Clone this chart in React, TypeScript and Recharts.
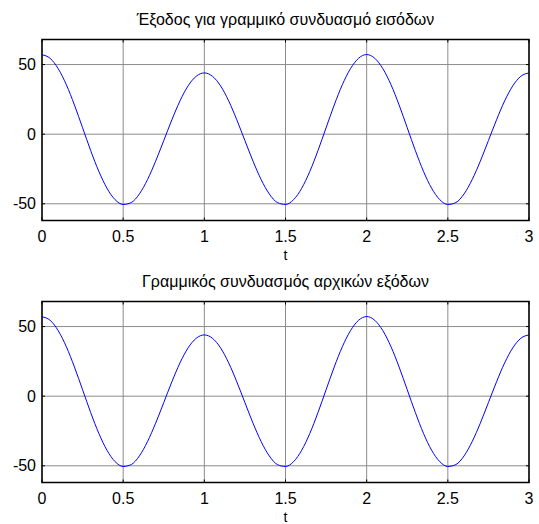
import React from 'react';
import { LineChart, Line, XAxis, YAxis, CartesianGrid, ReferenceArea, ReferenceLine } from 'recharts';

// time samples (s)
const tValues = [
  0, 0.05, 0.1, 0.15, 0.2, 0.25, 0.3, 0.35, 0.4, 0.45,
  0.5, 0.55, 0.6, 0.65, 0.7, 0.75, 0.8, 0.85, 0.9, 0.95,
  1, 1.05, 1.1, 1.15, 1.2, 1.25, 1.3, 1.35, 1.4, 1.45,
  1.5, 1.55, 1.6, 1.65, 1.7, 1.75, 1.8, 1.85, 1.9, 1.95,
  2, 2.05, 2.1, 2.15, 2.2, 2.25, 2.3, 2.35, 2.4, 2.45,
  2.5, 2.55, 2.6, 2.65, 2.7, 2.75, 2.8, 2.85, 2.9, 2.95,
  3,
];

// output for the linear combination of inputs
const outputValues = [
  57.0, 54.5, 47.0, 35.5, 20.9, 4.6, -11.8, -26.7, -38.8, -47.0,
  -50.5, -49.1, -42.9, -32.6, -19.4, -4.6, 10.3, 23.9, 34.7, 41.6,
  44.0, 41.6, 34.7, 23.9, 10.3, -4.6, -19.4, -32.6, -42.9, -49.1,
  -50.5, -47.0, -38.8, -26.7, -11.8, 4.6, 20.9, 35.5, 47.0, 54.5,
  57.2, 54.5, 47.0, 35.5, 20.9, 4.6, -11.8, -26.7, -38.8, -47.0,
  -50.5, -49.1, -42.9, -32.6, -19.4, -4.6, 10.3, 23.9, 34.7, 41.6,
  44.0,
];

// linear combination of the original outputs
const combinedValues = [
  57.0, 54.5, 47.0, 35.5, 20.9, 4.6, -11.8, -26.7, -38.8, -47.0,
  -50.5, -49.1, -42.9, -32.6, -19.4, -4.6, 10.3, 23.9, 34.7, 41.6,
  44.0, 41.6, 34.7, 23.9, 10.3, -4.6, -19.4, -32.6, -42.9, -49.1,
  -50.5, -47.0, -38.8, -26.7, -11.8, 4.6, 20.9, 35.5, 47.0, 54.5,
  57.2, 54.5, 47.0, 35.5, 20.9, 4.6, -11.8, -26.7, -38.8, -47.0,
  -50.5, -49.1, -42.9, -32.6, -19.4, -4.6, 10.3, 23.9, 34.7, 41.6,
  44.0,
];

const xTicks = [0, 0.5, 1, 1.5, 2, 2.5, 3];
const yTicks = [-50, 0, 50];
const xDomain: [number, number] = [0, 3];
const yDomain: [number, number] = [-62, 68];

const FONT = '"Liberation Sans", Arial, sans-serif';

function Panel({ title, values, top }: { title: string; values: number[]; top: number }) {
  const data = tValues.map((t, i) => ({ t, y: values[i] }));
  const tickStyle = { fill: '#000', fontSize: 16, fontFamily: FONT };
  // inward tick length, in data units (about 3px)
  const yTickLen = ((yDomain[1] - yDomain[0]) / 181) * 3;
  const xTickLen = ((xDomain[1] - xDomain[0]) / 487) * 3;

  return (
    <div style={{ position: 'absolute', left: 0, top, width: 539, height: 262 }}>
      <LineChart
        width={539}
        height={262}
        data={data}
        margin={{ top: 39.5, right: 10, bottom: 2.5, left: 0 }}
      >
        <CartesianGrid stroke="#8c8c8c" strokeWidth={1} />
        <XAxis
          dataKey="t"
          type="number"
          domain={xDomain}
          ticks={xTicks}
          interval={0}
          height={39}
          tickSize={-3}
          tickMargin={13}
          tick={tickStyle}
          axisLine={false}
          tickLine={{ stroke: '#000' }}
          allowDataOverflow
          label={{ value: 't', position: 'insideBottom', offset: 0, fill: '#000', fontSize: 14, fontFamily: FONT }}
        />
        <YAxis
          type="number"
          domain={yDomain}
          ticks={yTicks}
          interval={0}
          width={42}
          tickSize={-3}
          tickMargin={9}
          tick={tickStyle}
          axisLine={false}
          tickLine={{ stroke: '#000' }}
          allowDataOverflow
        />
        {xTicks.map((v) => (
          <ReferenceLine
            key={`tt-${v}`}
            segment={[{ x: v, y: yDomain[1] }, { x: v, y: yDomain[1] - yTickLen }]}
            stroke="#000"
            ifOverflow="visible"
          />
        ))}
        {yTicks.map((v) => (
          <ReferenceLine
            key={`rt-${v}`}
            segment={[{ x: xDomain[1], y: v }, { x: xDomain[1] - xTickLen, y: v }]}
            stroke="#000"
            ifOverflow="visible"
          />
        ))}
        <ReferenceArea
          x1={xDomain[0]}
          x2={xDomain[1]}
          y1={yDomain[0]}
          y2={yDomain[1]}
          fill="none"
          fillOpacity={0}
          stroke="#000"
          strokeWidth={1.5}
          ifOverflow="visible"
        />
        <Line
          type="monotone"
          dataKey="y"
          stroke="#0000ff"
          strokeWidth={1}
          dot={false}
          isAnimationActive={false}
        />
      </LineChart>
      <div
        style={{
          position: 'absolute',
          top: 12,
          left: 42,
          width: 487,
          textAlign: 'center',
          fontFamily: FONT,
          fontSize: 16,
          lineHeight: '16px',
          color: '#000',
          whiteSpace: 'nowrap',
        }}
      >
        {title}
      </div>
    </div>
  );
}

export default function App() {
  return (
    <div style={{ position: 'absolute', left: 0, top: 0, width: 539, height: 524, background: '#fff' }}>
      <Panel title="Έξοδος για γραμμικό συνδυασμό εισόδων" values={outputValues} top={0} />
      <Panel title="Γραμμικός συνδυασμός αρχικών εξόδων" values={combinedValues} top={262} />
    </div>
  );
}
